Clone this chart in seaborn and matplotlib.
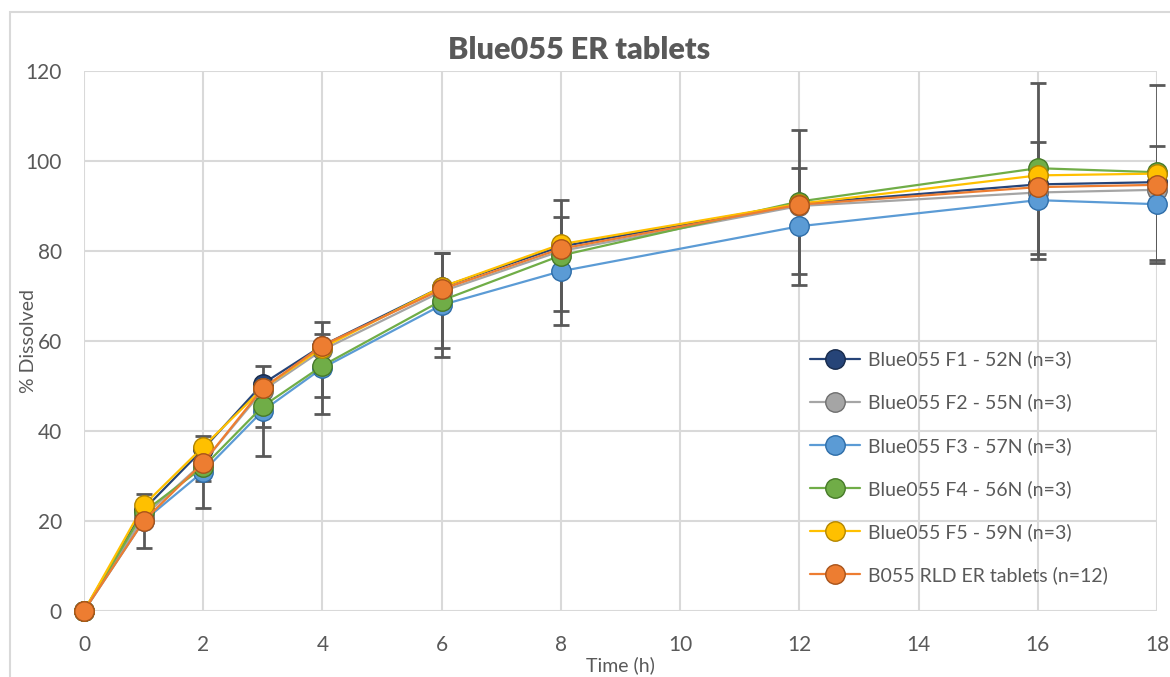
import numpy as np
import pandas as pd
import matplotlib
matplotlib.use("Agg")
import matplotlib.pyplot as plt
from matplotlib.patches import Rectangle
import seaborn as sns

sns.set_style("white")
plt.rcParams['font.family'] = ['Lato', 'DejaVu Sans']

time_h = [0, 1, 2, 3, 4, 6, 8, 12, 16, 18]

f1 = [0, 22.5, 36, 50.5, 59, 72, 81, 90.5, 94.8, 95.3]
f2 = [0, 21, 33, 49, 58, 71, 80, 90, 93, 93.6]
f3 = [0, 20, 31, 44.5, 54, 68, 75.5, 85.5, 91.3, 90.4]
f4 = [0, 22, 32, 45.5, 54.5, 69, 79, 91, 98.4, 97.5]
f5 = [0, 23.5, 36.5, 49.5, 58.5, 72, 81.5, 90.5, 96.8, 97.2]
rld = [0, 20, 33, 49.5, 59, 71.5, 80.5, 90.3, 94.2, 94.7]

f3_err = [0, 6, 8, 10, 10.3, 11.5, 12, 13, 13, 13]
f4_err = [0, 2, 3, 4.5, 7, 10.5, 12.3, 16, 19, 19.5]

labels = ["Blue055 F1 - 52N (n=3)", "Blue055 F2 - 55N (n=3)",
          "Blue055 F3 - 57N (n=3)", "Blue055 F4 - 56N (n=3)",
          "Blue055 F5 - 59N (n=3)", "B055 RLD ER tablets (n=12)"]
colors = ["#264478", "#A5A5A5", "#5B9BD5", "#70AD47", "#FFC000", "#ED7D31"]
edges = ["#172a4b", "#6e6e6e", "#2e6da8", "#467a28", "#b38600", "#a8531a"]

df = pd.DataFrame({"time": time_h, labels[0]: f1, labels[1]: f2, labels[2]: f3,
                   labels[3]: f4, labels[4]: f5, labels[5]: rld})

fig = plt.figure(figsize=(11.7, 6.77), dpi=100)
ax = fig.add_axes([84 / 1170, 1 - 611 / 677, 1073 / 1170, 540 / 677])

# error bars (behind markers)
for vals, err in [(f3, f3_err), (f4, f4_err)]:
    ax.errorbar(time_h, vals, yerr=err, fmt="none", ecolor="#595959",
                elinewidth=2, capsize=6, capthick=2, zorder=2)

for i, lab in enumerate(labels):
    sns.lineplot(data=df, x="time", y=lab, ax=ax, color=colors[i], label=lab,
                 marker="o", markersize=14, markeredgecolor=edges[i],
                 markeredgewidth=1, linewidth=1.6, zorder=3 + i)

ax.set_xlim(0, 18)
ax.set_ylim(0, 120)
ax.set_xticks(range(0, 19, 2))
ax.set_yticks(range(0, 121, 20))
ax.grid(True, color="#d9d9d9", linewidth=1.5)
ax.set_axisbelow(True)
for s in ax.spines.values():
    s.set_visible(False)
ax.tick_params(axis="both", colors="#595959", labelsize=15, length=0)
ax.tick_params(axis="y", pad=16)
ax.tick_params(axis="x", pad=17)
for line in ax.lines:
    line.set_clip_on(False)

ax.set_xlabel("Time (h)", fontsize=14, color="#595959")
ax.xaxis.set_label_coords(0.5, -0.084)
ax.set_ylabel("% Dissolved", fontsize=14, color="#595959")
ax.yaxis.set_label_coords(-0.044, 0.5)

leg = ax.legend(loc="upper left", bbox_to_anchor=(0.66, 0.515), frameon=False,
                fontsize=14, labelspacing=1.3, handlelength=2.6,
                handletextpad=0.4)
for t in leg.get_texts():
    t.set_color("#595959")

fig.text(0.495, 0.926, "Blue055 ER tablets", ha="center", va="center",
         fontsize=22, fontweight="heavy", color="#595959")

fig.patches.append(Rectangle((10 / 1170, -0.05), 1.1, 1 - 12 / 677 + 0.05,
                             transform=fig.transFigure, fill=False,
                             edgecolor="#d9d9d9", linewidth=1.5))

fig.savefig("out.png", dpi=100)
